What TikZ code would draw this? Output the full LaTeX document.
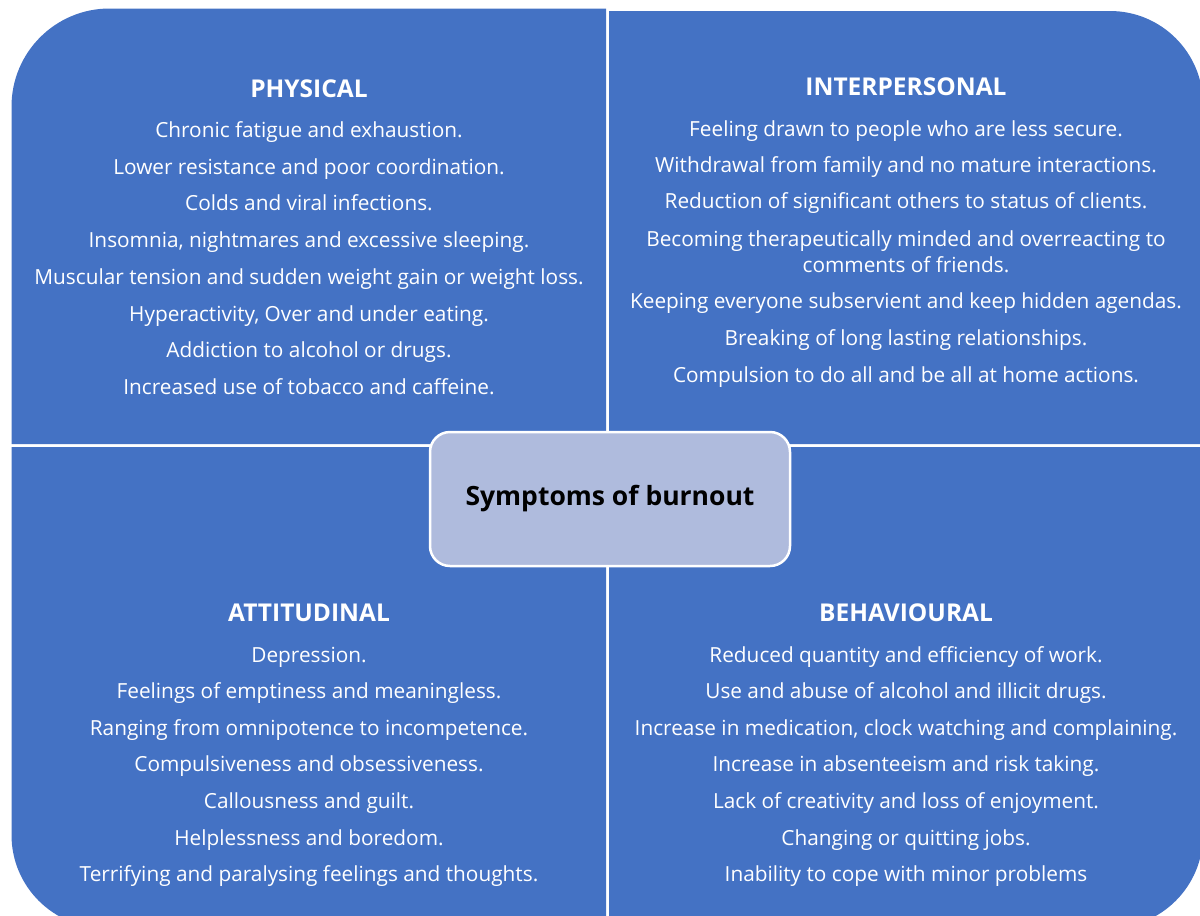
\documentclass[tikz,border=0pt]{standalone}
\usepackage{fontspec}
\setmainfont{Open Sans}
\definecolor{quadblue}{HTML}{4472C4}
\definecolor{hubfill}{HTML}{AFBBDD}
\begin{document}
\begin{tikzpicture}[x=1pt,y=-1pt,
  quad/.style={fill=quadblue},
  item/.style={font=\fontsize{20.8}{25}\selectfont, text=white, anchor=base, inner sep=0pt},
  heading/.style={font=\fontsize{24.5}{28}\selectfont\bfseries, text=white, anchor=base, inner sep=0pt},
  hub/.style={draw=white, line width=2.5pt, fill=hubfill, rounded corners=20pt,
    minimum width=360pt, minimum height=134pt, inner sep=0pt,
    font=\fontsize{26.5}{30}\selectfont\bfseries, text=black}]
\useasboundingbox (0,0) rectangle (1200,916);

% four quadrants, each rounded on its outer corner
\fill[quad] (606,444) -- (11.5,444) [rounded corners=98pt] -- (11.5,8.5) [sharp corners] -- (606,8.5) -- cycle;
\fill[quad] (609,444) -- (609,11) [rounded corners=93pt] -- (1203,11) [sharp corners] -- (1203,444) -- cycle;
\fill[quad] (606,447) -- (11.5,447) [rounded corners=93pt] -- (11.5,928) [sharp corners] -- (606,928) -- cycle;
\fill[quad] (609,447) -- (609,928) [rounded corners=93pt] -- (1203,928) [sharp corners] -- (1203,447) -- cycle;

% physical
\node[heading] (phT) at (309,97.5) {PHYSICAL};
\node[item] (ph1) at (309,137.5) {Chronic fatigue and exhaustion.};
\node[item] (ph2) at (309,174.5) {Lower resistance and poor coordination.};
\node[item] (ph3) at (309,210.5) {Colds and viral infections.};
\node[item] (ph4) at (309,247.5) {Insomnia, nightmares and excessive sleeping.};
\node[item] (ph5) at (309,284.5) {Muscular tension and sudden weight gain or weight loss.};
\node[item] (ph6) at (309,321.5) {Hyperactivity, Over and under eating.};
\node[item] (ph7) at (309,357.5) {Addiction to alcohol or drugs.};
\node[item] (ph8) at (309,394.5) {Increased use of tobacco and caffeine.};

% interpersonal
\node[heading] (ipT) at (906,95.5) {INTERPERSONAL};
\node[item] (ip1) at (906,136.5) {Feeling drawn to people who are less secure.};
\node[item] (ip2) at (906,172.5) {Withdrawal from family and no mature interactions.};
\node[item] (ip3) at (906,208.5) {Reduction of significant others to status of clients.};
\node[item] (ip4a) at (906,246.5) {Becoming therapeutically minded and overreacting to};
\node[item] (ip4b) at (906,272.5) {comments of friends.};
\node[item] (ip5) at (906,308.5) {Keeping everyone subservient and keep hidden agendas.};
\node[item] (ip6) at (906,345.5) {Breaking of long lasting relationships.};
\node[item] (ip7) at (906,382.5) {Compulsion to do all and be all at home actions.};

% attitudinal
\node[heading] (atT) at (309,621.5) {ATTITUDINAL};
\node[item] (at1) at (309,662.5) {Depression.};
\node[item] (at2) at (309,698.5) {Feelings of emptiness and meaningless.};
\node[item] (at3) at (309,735.5) {Ranging from omnipotence to incompetence.};
\node[item] (at4) at (309,771.5) {Compulsiveness and obsessiveness.};
\node[item] (at5) at (309,808.5) {Callousness and guilt.};
\node[item] (at6) at (309,845.5) {Helplessness and boredom.};
\node[item] (at7) at (309,881.5) {Terrifying and paralysing feelings and thoughts.};

% behavioural
\node[heading] (bhT) at (906,621.5) {BEHAVIOURAL};
\node[item] (bh1) at (906,662.5) {Reduced quantity and efficiency of work.};
\node[item] (bh2) at (906,698.5) {Use and abuse of alcohol and illicit drugs.};
\node[item] (bh3) at (906,735.5) {Increase in medication, clock watching and complaining.};
\node[item] (bh4) at (906,771.5) {Increase in absenteeism and risk taking.};
\node[item] (bh5) at (906,808.5) {Lack of creativity and loss of enjoyment.};
\node[item] (bh6) at (906,845.5) {Changing or quitting jobs.};
\node[item] (bh7) at (906,881.5) {Inability to cope with minor problems};

% central hub
\node[hub] (hub) at (610,499) {Symptoms of burnout};
\end{tikzpicture}
\end{document}
